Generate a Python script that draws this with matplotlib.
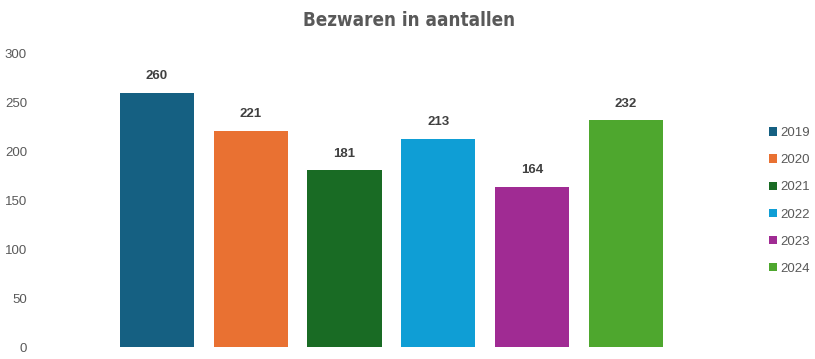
import matplotlib.pyplot as plt
import numpy as np

# bezwaren per jaar
years = ['2019', '2020', '2021', '2022', '2023', '2024']
counts = [260, 221, 181, 213, 164, 232]
colors = ['#156082', '#E97132', '#196B24', '#0F9ED5', '#A02B93', '#4EA72E']

plt.rcParams['font.family'] = ['Liberation Sans', 'DejaVu Sans']

W, H = 815, 359
fig = plt.figure(figsize=(W / 100, H / 100), dpi=100)
# axes in pixels: left 45, right 673, bottom y=347, top y=54
ax = fig.add_axes([45 / W, (H - 347) / H, (673 - 45) / W, (347 - 54) / H])

x = np.arange(len(years))
for i in range(len(years)):
    b = ax.bar(x[i], counts[i], width=0.79, color=colors[i], label=years[i])
    ax.annotate(str(counts[i]), (x[i], counts[i]), xytext=(0, 12),
                textcoords='offset points', ha='center', va='center',
                fontsize=9.5, fontweight='bold', color='#404040')

ax.set_xlim(-(157 - 45) / 94, 5.5)
ax.set_ylim(0, 300)
ax.set_yticks(range(0, 301, 50))
ax.set_xticks([])
for s in ax.spines.values():
    s.set_visible(False)
ax.tick_params(axis='y', length=0, labelsize=9.5, labelcolor='#595959', pad=13)

fig.text(409 / W, 1 - 21 / H, 'Bezwaren in aantallen', ha='center', va='center',
         fontsize=13.5, fontweight='bold', color='#595959',
         family='DejaVu Sans', fontstretch='condensed')

fig.legend(loc='center left', bbox_to_anchor=(757 / W, 1 - 201 / H), frameon=False,
           fontsize=9.5, labelcolor='#595959', handlelength=0.6, handleheight=0.6,
           handletextpad=0.25, labelspacing=1.15)

fig.savefig('out.png', dpi=100)
